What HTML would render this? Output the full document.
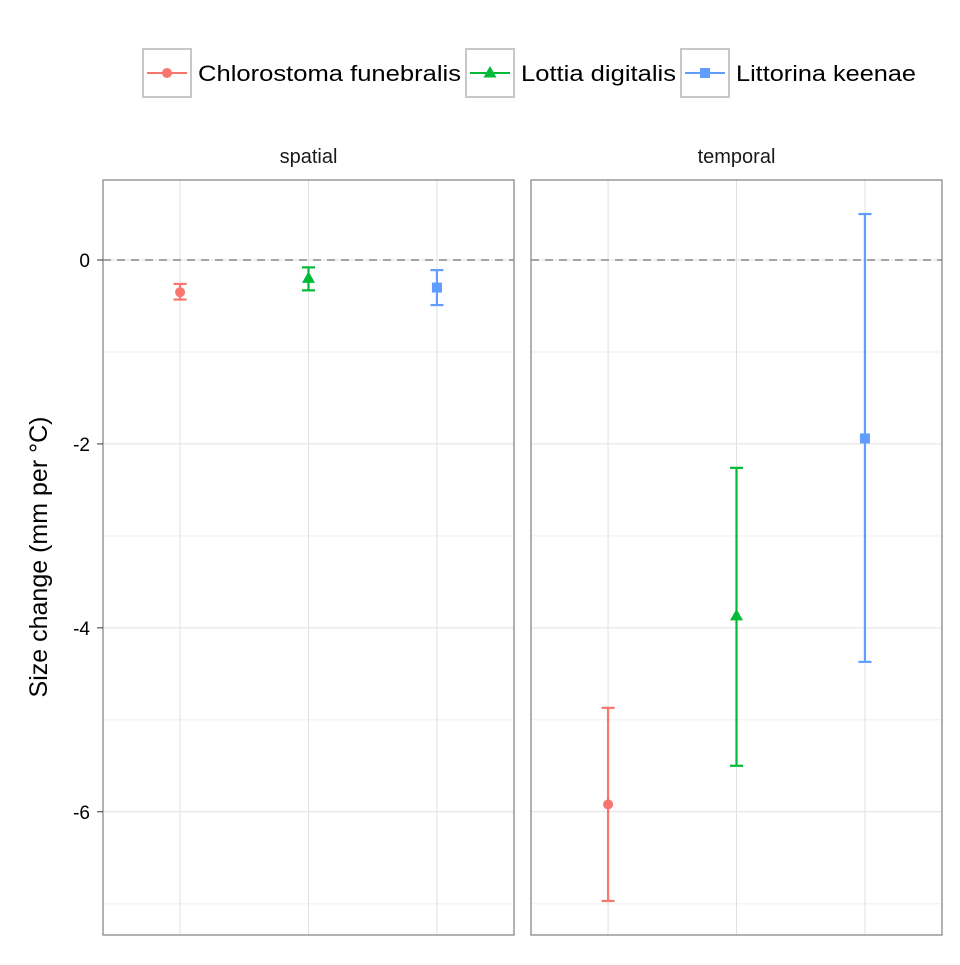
<!DOCTYPE html>
<html><head><meta charset="utf-8"><style>
body{margin:0;background:#fff;}
svg text{font-family:"Liberation Sans",Arial,sans-serif;}
</style></head><body>
<svg id="chart" width="960" height="960" xmlns="http://www.w3.org/2000/svg"></svg>
<script>
const species = ["Chlorostoma funebralis","Lottia digitalis","Littorina keenae"];
const colors = ["#F8766D","#00BA38","#619CFF"];
const panels = ["spatial","temporal"];
const spatialMean = [-0.35,-0.2,-0.3];
const spatialLow = [-0.43,-0.33,-0.49];
const spatialHigh = [-0.26,-0.08,-0.11];
const temporalMean = [-5.92,-3.87,-1.94];
const temporalLow = [-6.97,-5.5,-4.37];
const temporalHigh = [-4.87,-2.26,0.5];
const yTicks = [0,-2,-4,-6];
const yMinor = [-1,-3,-5,-7];

const NS="http://www.w3.org/2000/svg";
const svg=document.getElementById('chart');
function el(tag,attrs,parent){const e=document.createElementNS(NS,tag);for(const k in attrs)e.setAttribute(k,attrs[k]);(parent||svg).appendChild(e);return e;}
const plotTop=180,plotBot=935;
const yMax=0.87,yMinV=-7.34;
function y(v){return plotTop+(yMax-v)/(yMax-yMinV)*(plotBot-plotTop);}
const panelX=[103,531],pw=411;
function x(p,i){return panelX[p]+((i+1)-0.4)/3.2*pw;}
const means=[spatialMean,temporalMean],lows=[spatialLow,temporalLow],highs=[spatialHigh,temporalHigh];

function marker(g,shape,cx,cy,c){
  if(shape===0) return el('circle',{cx:cx,cy:cy,r:5,fill:c},g);
  if(shape===1) return el('polygon',{points:`${cx},${cy-7} ${cx-6.5},${cy+4.5} ${cx+6.5},${cy+4.5}`,fill:c},g);
  return el('rect',{x:cx-5,y:cy-5,width:10,height:10,fill:c},g);
}

panels.forEach((name,p)=>{
  const g=el('g',{});
  
  
  const st=el('text',{x:panelX[p]+pw/2,y:163,'text-anchor':'middle','font-size':20,fill:'#1a1a1a'},g);
  st.textContent=name;
  
  
  yMinor.forEach(v=>{el('line',{x1:panelX[p],x2:panelX[p]+pw,y1:y(v),y2:y(v),stroke:'#f4f4f4','stroke-width':1.5},g);});
  yTicks.forEach(v=>{el('line',{x1:panelX[p],x2:panelX[p]+pw,y1:y(v),y2:y(v),stroke:'#e0e0e0','stroke-width':1},g);});
  species.forEach((s,i)=>{el('line',{x1:x(p,i),x2:x(p,i),y1:plotTop,y2:plotBot,stroke:'#e0e0e0','stroke-width':1},g);});
  el('line',{x1:panelX[p],x2:panelX[p]+pw,y1:y(0),y2:y(0),stroke:'#a6a6a6','stroke-width':2,'stroke-dasharray':'8,6'},g);
  species.forEach((s,i)=>{
    const c=colors[i],cx=x(p,i);
    const sg=el('g',{},g);
    
    
    el('line',{x1:cx,x2:cx,y1:y(lows[p][i]),y2:y(highs[p][i]),stroke:c,'stroke-width':2.2},sg);
    el('line',{x1:cx-6.5,x2:cx+6.5,y1:y(lows[p][i]),y2:y(lows[p][i]),stroke:c,'stroke-width':2.2},sg);
    el('line',{x1:cx-6.5,x2:cx+6.5,y1:y(highs[p][i]),y2:y(highs[p][i]),stroke:c,'stroke-width':2.2},sg);
    marker(sg,i,cx,y(means[p][i]),c);
  });
  el('rect',{x:panelX[p],y:plotTop,width:pw,height:plotBot-plotTop,fill:'none',stroke:'#7f7f7f','stroke-width':1.2},g);
});
yTicks.forEach(v=>{
  el('line',{x1:97,x2:103,y1:y(v),y2:y(v),stroke:'#333','stroke-width':1});
  const t=el('text',{x:90,y:y(v)+7,'text-anchor':'end','font-size':19,fill:'#000'});
  t.textContent=v;
  
  
});
const yt=el('text',{x:47,y:557,'text-anchor':'middle','font-size':25,fill:'#000',transform:'rotate(-90 47 557)'});
yt.textContent='Size change (mm per °C)';



const lx=[143,466,681];
const textW=[263,155,180];
const lg=el('g',{});


species.forEach((s,i)=>{
  const eg=el('g',{},lg);
  
  
  el('rect',{x:lx[i],y:49,width:48,height:48,fill:'#fff',stroke:'#c8c8c8','stroke-width':2},eg);
  el('line',{x1:lx[i]+4,x2:lx[i]+44,y1:73,y2:73,stroke:colors[i],'stroke-width':2},eg);
  marker(eg,i,lx[i]+24,73,colors[i]);
  const t=el('text',{x:lx[i]+55,y:81,'font-size':22,fill:'#000',textLength:textW[i],lengthAdjust:'spacingAndGlyphs'},eg);
  t.textContent=s;
});
</script>
</body></html>
